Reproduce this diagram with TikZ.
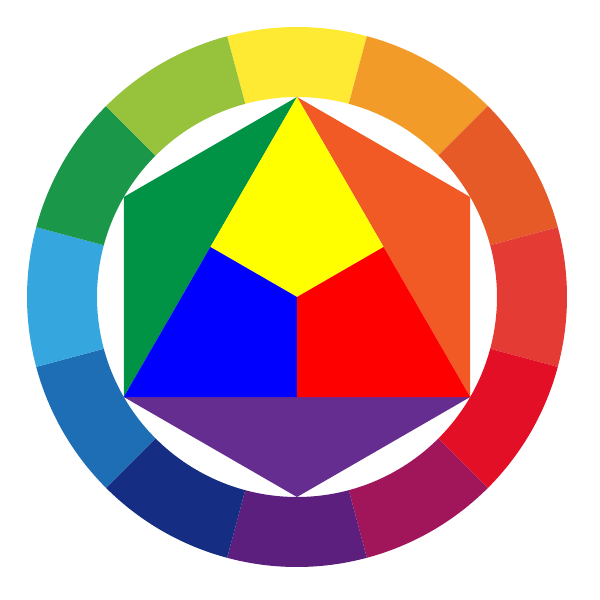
\documentclass[tikz,border=0pt]{standalone}
\usetikzlibrary{calc}
\definecolor{rY}{HTML}{FEEA33}
\definecolor{rYO}{HTML}{F29B29}
\definecolor{rO}{HTML}{E65A27}
\definecolor{rRO}{HTML}{E43B35}
\definecolor{rR}{HTML}{E30F26}
\definecolor{rRV}{HTML}{A1165B}
\definecolor{rV}{HTML}{5D1F7E}
\definecolor{rBV}{HTML}{152E84}
\definecolor{rB}{HTML}{1D6EB5}
\definecolor{rBG}{HTML}{35A7DE}
\definecolor{rG}{HTML}{1A9749}
\definecolor{rYG}{HTML}{96C23C}
\definecolor{iG}{HTML}{009245}
\definecolor{iO}{HTML}{F15A24}
\definecolor{iV}{HTML}{662D91}
\definecolor{iY}{RGB}{255,255,0}
\definecolor{iB}{RGB}{0,0,255}
\definecolor{iR}{RGB}{255,0,0}
\begin{document}
\begin{tikzpicture}[x=1pt,y=1pt]
\useasboundingbox (-297,-303) rectangle (303,297);
% ring segments
\foreach \a/\c in {90/rY,60/rYO,30/rO,0/rRO,-30/rR,-60/rRV,-90/rV,-120/rBV,-150/rB,-180/rBG,-210/rG,-240/rYG}{
  \fill[\c] (\a-15:270pt) arc[start angle=\a-15,end angle=\a+15,radius=270pt]
    -- (\a+15:200pt) arc[start angle=\a+15,end angle=\a-15,radius=200pt] -- cycle;
}
% hexagon vertices
\coordinate (T) at (90:200pt);
\coordinate (UL) at (150:200pt);
\coordinate (LL) at (210:200pt);
\coordinate (B) at (270:200pt);
\coordinate (LR) at (330:200pt);
\coordinate (UR) at (30:200pt);
\coordinate (O) at (0,0);
\coordinate (ML) at ($(T)!0.5!(LL)$);
\coordinate (MR) at ($(T)!0.5!(LR)$);
\coordinate (MB) at ($(LL)!0.5!(LR)$);
% outer triangles
\fill[iG] (T) -- (UL) -- (LL) -- cycle;
\fill[iO] (T) -- (UR) -- (LR) -- cycle;
\fill[iV] (LL) -- (B) -- (LR) -- cycle;
% inner kites
\fill[iY] (T) -- (MR) -- (O) -- (ML) -- cycle;
\fill[iB] (LL) -- (ML) -- (O) -- (MB) -- cycle;
\fill[iR] (LR) -- (MR) -- (O) -- (MB) -- cycle;
\end{tikzpicture}
\end{document}
